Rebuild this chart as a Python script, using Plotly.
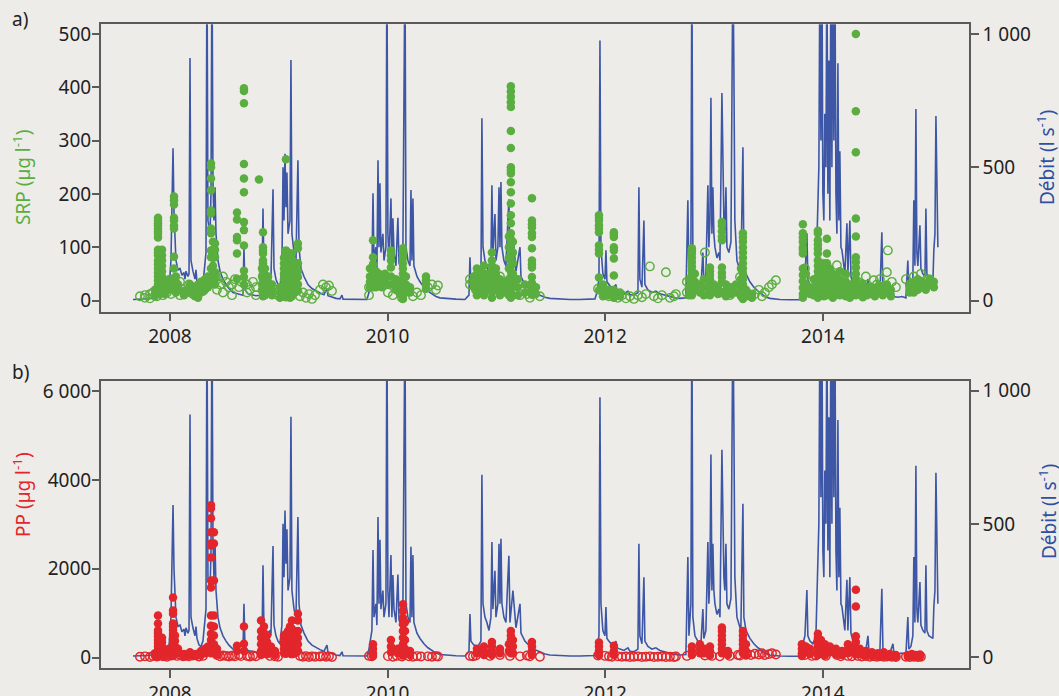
import plotly.graph_objects as go

# ---------------- DATA ----------------
# Discharge (l s-1) vs time (decimal years); peaks beyond the axis top are clipped in the figure
discharge = [
 (2007.660,4),(2007.724,5),(2007.798,6),(2007.862,10),(2007.890,25),(2007.908,15),(2007.936,70),(2007.963,20),(2007.991,40),
 (2008.009,150),(2008.018,300),(2008.028,571),(2008.037,330),(2008.046,200),(2008.055,150),(2008.074,115),(2008.092,120),
 (2008.110,95),(2008.129,105),(2008.138,80),(2008.147,110),(2008.165,90),(2008.175,100),(2008.184,910),(2008.193,150),
 (2008.211,110),(2008.230,80),(2008.239,115),(2008.248,70),(2008.267,45),(2008.285,40),(2008.303,60),(2008.322,150),
 (2008.331,180),(2008.340,1300),(2008.349,300),(2008.368,250),(2008.377,400),(2008.386,1300),(2008.395,450),(2008.404,300),
 (2008.414,425),(2008.423,250),(2008.441,150),(2008.460,110),(2008.487,80),(2008.515,60),(2008.542,45),(2008.579,30),
 (2008.616,25),(2008.643,22),(2008.671,20),(2008.680,200),(2008.689,40),(2008.717,25),(2008.754,20),(2008.790,18),
 (2008.827,20),(2008.846,60),(2008.855,345),(2008.864,100),(2008.882,70),(2008.901,90),(2008.919,100),(2008.928,80),
 (2008.947,417),(2008.956,120),(2008.974,80),(2008.993,60),(2009.011,50),(2009.029,120),(2009.039,500),(2009.048,300),
 (2009.057,550),(2009.066,350),(2009.075,480),(2009.085,250),(2009.103,300),(2009.112,902),(2009.121,250),(2009.140,180),
 (2009.158,150),(2009.176,526),(2009.186,200),(2009.204,120),(2009.232,90),(2009.268,60),(2009.305,45),(2009.342,35),
 (2009.379,28),
 (2009.415,22),(2009.443,45),(2009.452,18),(2009.489,12),(2009.526,8),(2009.562,6),(2009.581,20),(2009.590,5),(2009.654,4),
 (2009.746,3),(2009.810,4),(2009.829,30),(2009.838,50),(2009.856,100),(2009.866,402),(2009.875,150),(2009.893,200),
 (2009.902,120),(2009.912,526),(2009.921,200),(2009.930,440),(2009.939,180),(2009.957,250),(2009.967,150),(2009.985,200),
 (2009.994,1300),(2010.003,250),(2010.013,150),(2010.031,383),(2010.040,150),(2010.049,308),(2010.059,180),(2010.077,130),
 (2010.095,310),(2010.105,140),(2010.123,120),(2010.141,200),(2010.150,860),(2010.160,1300),(2010.169,200),(2010.187,150),
 (2010.206,130),(2010.215,414),(2010.224,150),(2010.233,383),(2010.242,130),(2010.270,90),(2010.298,70),(2010.334,50),
 (2010.371,35),(2010.408,25),(2010.445,15),(2010.481,10),(2010.555,7),(2010.628,5),(2010.711,4),(2010.748,20),(2010.757,162),
 (2010.766,60),(2010.794,45),(2010.831,40),(2010.858,60),(2010.867,684),(2010.877,200),(2010.895,150),(2010.913,130),
 (2010.932,100),(2010.950,150),(2010.959,432),(2010.968,180),(2010.987,324),(2010.996,150),(2011.014,200),(2011.024,425),
 (2011.033,200),(2011.042,444),(2011.051,200),(2011.069,150),(2011.088,130),(2011.106,300),(2011.115,380),(2011.125,130),
 (2011.152,250),(2011.180,110),(2011.217,200),(2011.226,90),(2011.262,60),(2011.308,40),(2011.354,28),(2011.400,20),
 (2011.446,12),(2011.492,8),(2011.584,5),(2011.676,4),(2011.768,4),(2011.860,4),(2011.906,6),(2011.924,30),(2011.943,80),
 (2011.952,975),(2011.961,200),(2011.979,100),(2011.998,80),(2012.007,188),(2012.016,70),(2012.044,55),(2012.071,45),
 (2012.099,60),(2012.108,35),(2012.136,30),(2012.172,25),(2012.209,35),(2012.227,22),(2012.264,20),(2012.301,30),
 (2012.310,425),(2012.319,80),(2012.338,50),(2012.356,300),(2012.365,60),(2012.393,40),(2012.430,30),(2012.466,35),
 (2012.503,25),(2012.549,20),(2012.595,15),(2012.641,10),(2012.687,8),(2012.742,10),(2012.760,376),(2012.770,80),
 (2012.788,200),(2012.797,1300),(2012.806,150),(2012.825,80),(2012.852,60),(2012.880,50),(2012.898,180),(2012.907,70),
 (2012.926,100),(2012.944,432),(2012.953,200),(2012.963,300),(2012.972,760),(2012.981,250),(2012.990,425),(2012.999,250),
 (2013.009,200),(2013.027,160),(2013.045,180),(2013.055,150),(2013.073,778),(2013.082,515),(2013.091,300),(2013.100,250),
 (2013.110,425),(2013.119,200),(2013.137,180),(2013.156,220),(2013.174,1300),(2013.183,876),(2013.192,300),(2013.211,150),
 (2013.229,120),(2013.247,100),(2013.266,575),(2013.275,150),(2013.294,100),(2013.330,70),(2013.367,50),(2013.404,35),
 (2013.440,25),(2013.468,15),(2013.514,8),(2013.606,4),(2013.698,3),(2013.790,3),
 (2013.817,50),(2013.836,80),(2013.854,252),(2013.863,80),(2013.882,60),(2013.909,50),(2013.937,80),(2013.955,338),
 (2013.964,500),(2013.974,1300),(2013.983,600),(2013.992,1300),(2014.001,400),(2014.010,300),(2014.019,700),(2014.029,500),
 (2014.038,1300),(2014.047,400),(2014.056,900),(2014.065,300),(2014.075,1300),(2014.084,500),(2014.093,1300),(2014.102,600),
 (2014.111,1300),(2014.121,400),(2014.130,250),(2014.139,890),(2014.148,300),(2014.157,560),(2014.167,200),(2014.176,190),
 (2014.194,120),(2014.203,100),(2014.222,290),(2014.231,100),(2014.249,300),(2014.259,90),(2014.277,60),(2014.304,45),
 (2014.341,35),(2014.369,30),(2014.396,25),(2014.415,80),(2014.424,25),(2014.452,20),(2014.488,18),(2014.525,20),
 (2014.543,256),(2014.553,30),(2014.580,20),(2014.617,15),(2014.645,50),(2014.654,15),(2014.690,12),(2014.727,15),
 (2014.764,10),(2014.782,150),(2014.791,30),(2014.810,40),(2014.828,80),(2014.837,376),(2014.847,130),(2014.856,718),
 (2014.865,180),(2014.874,130),(2014.893,282),(2014.902,120),(2014.920,100),(2014.939,90),(2014.948,345),(2014.957,100),
 (2014.975,80),(2014.994,75),(2015.012,70),(2015.021,190),(2015.031,250),(2015.040,692),(2015.049,300),(2015.058,200),
]

# SRP (µg l-1): filled circles = event samples, open circles = other samples; (time, [values])
srp_filled = [
 (2007.862,[20,12,8]),
 (2007.890,[155,150,145,140,135,130,125,118,95,90,85,75,68,60,52,45,38,30,22,15]),
 (2007.908,[30,20,12]),(2007.927,[95,85,75,65,55,45,35]),(2007.954,[25,18,12]),(2007.991,[40,30,20]),
 (2008.037,[195,188,180,155,150,140,135,82,60,42,35,28,20]),(2008.055,[45,35,25,15]),(2008.074,[30,20]),
 (2008.129,[18,10]),(2008.184,[30,22,15]),(2008.230,[25,15,8]),(2008.258,[30,20,10,5]),(2008.285,[35,25,15]),
 (2008.322,[40,30,20]),(2008.349,[45,35,25]),
 (2008.377,[257,250,229,207,169,163,135,126,94,81,60,45]),(2008.395,[110,95,80,65,50,35]),(2008.414,[107,95,81,53,41,30]),
 (2008.616,[165,152,119,113,88,41]),(2008.680,[398,393,370,256,229,203,147,132,103,56,44,30]),(2008.818,[227]),
 (2008.846,[60,45,30,20]),(2008.855,[128,100,94,88,75,70,65,55,50,40,35,25,15,8]),(2008.873,[60,48,38,28,18,10]),
 (2008.901,[45,35,20]),(2008.938,[30,20,10]),(2009.011,[25,15,5]),(2009.048,[80,70,60,50,40,30,20,10]),
 (2009.066,[265,94,88,80,72,65,58,50,42,35,28,20,12,6]),(2009.085,[90,80,70,60,50,40,30,20,10]),
 (2009.103,[85,75,65,55,45,35,25,15,5]),(2009.121,[88,78,68,58,48,38,28,18,8]),(2009.149,[60,45,30,15]),
 (2009.176,[107,98,70,55,44,30,18]),
 (2009.838,[60,45,35,25]),(2009.866,[113,81,68,55,47,40,35,30,25]),(2009.893,[55,45,35,25]),(2009.921,[50,40,30]),
 (2009.948,[45,35,25]),(2009.976,[50,40,30]),(2010.031,[94,85,75,62,45,30]),(2010.077,[40,30,20]),(2010.114,[35,25,12]),
 (2010.141,[98,90,80,70,60,50,40,30,20,10,3]),(2010.169,[45,30,15]),(2010.206,[25,15]),(2010.353,[45,38,30,22]),
 (2010.794,[45,35,25]),(2010.821,[60,50,40,30,20,10]),(2010.849,[55,45,35,25,15]),(2010.886,[65,50,40,30,20,10]),
 (2010.923,[50,40,30,20]),(2010.959,[90,75,65,55,45,35,25,15,5]),(2010.996,[60,50,40,30,20]),(2011.033,[40,30,20,10]),
 (2011.079,[35,25,15]),(2011.115,[120,100,80,60,40,25,10]),
 (2011.133,[402,392,382,372,363,318,286,250,244,238,222,203,182,160,145,126,115,105,95,85,75,65,55,45,35,25,15,5]),
 (2011.152,[110,90,70,50,30,10]),(2011.197,[40,25,10]),(2011.262,[30,15]),
 (2011.327,[192,150,143,137,126,119,98,75,68,62,44,33,22,11]),(2011.364,[25,12]),
 (2011.943,[160,155,150,141,135,128,103,95,88,43,19]),(2011.980,[30,18,8]),(2012.026,[20,10]),
 (2012.080,[128,124,119,100,94,79,47,20,12,5]),(2012.136,[15,8]),
 (2012.770,[40,25,10]),(2012.797,[98,94,88,80,72,64,56,48,40,30,20,10]),(2012.825,[50,35,20]),(2012.871,[30,15]),
 (2012.907,[40,25,10]),(2012.963,[62,55,48,40,32,24,16,10]),(2012.999,[30,18]),(2013.036,[25,12]),
 (2013.073,[147,140,130,120,113,62,52,44,35,15]),(2013.110,[30,18,8]),(2013.156,[25,12]),(2013.202,[30,15]),
 (2013.248,[60,40,20,8]),(2013.266,[126,118,110,100,90,80,70,60,50,40,30,20,10,3]),(2013.294,[20,8]),(2013.349,[12,5]),
 (2013.817,[143,126,118,110,100,95,88,60,48,36,24,12,5]),(2013.845,[50,30,15]),(2013.882,[25,12]),(2013.918,[40,25,10]),
 (2013.955,[131,126,113,105,97,88,75,65,55,45,35,25,15,5]),(2013.983,[60,45,30,15]),(2014.010,[70,50,35,20,8]),
 (2014.038,[116,88,70,55,40,25,10]),(2014.065,[60,45,30,15]),(2014.093,[50,35,20,5]),(2014.120,[45,30,15]),
 (2014.157,[55,40,25,10]),(2014.184,[35,20]),(2014.212,[50,35,20,8]),(2014.249,[30,15,5]),(2014.276,[25,12]),
 (2014.304,[500,355,278,154,120,81,72,62,50,40,30,20,10]),(2014.331,[25,12]),(2014.368,[30,18,6]),(2014.405,[22,10]),
 (2014.442,[25,12]),(2014.479,[20,8]),(2014.515,[28,15]),(2014.552,[25,10]),(2014.589,[30,15]),(2014.626,[20,8]),
 (2014.800,[25,15]),(2014.837,[35,25,15]),(2014.874,[40,30,20]),(2014.911,[35,25]),(2014.947,[30,20]),
 (2014.984,[40,30]),(2015.021,[35,25]),
]
srp_open = [
 (2007.724,[8]),(2007.770,[10,5]),(2007.816,[12,4]),(2007.844,[15]),(2007.880,[8,20]),(2007.936,[25,10]),(2007.972,[15]),
 (2008.009,[30,12]),(2008.064,[25]),(2008.092,[35,10]),(2008.119,[20]),(2008.147,[15]),(2008.175,[30]),(2008.211,[12]),
 (2008.267,[25]),(2008.303,[18]),(2008.432,[40,20]),(2008.460,[30]),(2008.487,[45,15]),(2008.515,[35]),(2008.542,[25]),
 (2008.570,[30,10]),(2008.597,[40]),(2008.634,[25]),(2008.652,[35]),(2008.708,[30,15]),(2008.735,[20]),(2008.763,[35]),
 (2008.790,[25,10]),(2008.919,[15]),(2008.965,[20]),(2008.993,[10]),(2009.195,[8]),(2009.222,[15]),(2009.250,[5]),
 (2009.277,[12]),(2009.305,[3]),(2009.333,[10]),(2009.379,[20]),(2009.406,[30]),(2009.434,[25]),(2009.461,[28]),
 (2009.489,[18]),
 (2009.829,[25,10]),(2009.856,[35]),(2010.003,[15]),(2010.049,[10]),(2010.086,[20]),(2010.132,[5]),(2010.196,[18]),
 (2010.233,[8]),(2010.270,[15]),(2010.307,[10]),(2010.371,[25]),(2010.408,[30]),(2010.445,[20]),(2010.463,[28]),
 (2010.757,[40,30]),(2010.785,[35]),(2010.812,[20]),(2010.941,[15]),(2011.033,[45]),(2011.125,[20]),(2011.217,[10]),
 (2011.281,[12]),(2011.308,[20,5]),(2011.400,[8]),
 (2011.934,[22]),(2011.998,[15]),(2012.035,[8]),(2012.062,[12]),(2012.117,[5]),(2012.154,[10]),(2012.191,[4]),
 (2012.227,[8]),(2012.264,[3]),(2012.301,[10]),(2012.338,[6]),(2012.374,[12]),(2012.411,[64]),(2012.448,[8]),
 (2012.485,[4]),(2012.522,[10]),(2012.558,[53]),(2012.595,[5]),(2012.632,[8]),(2012.650,[12]),(2012.751,[35,15]),
 (2012.917,[90]),(2012.981,[20]),(2013.054,[15]),(2013.146,[10]),(2013.220,[25]),(2013.239,[44]),(2013.303,[15]),
 (2013.340,[8]),(2013.376,[12]),(2013.413,[20]),(2013.441,[8]),(2013.468,[15]),(2013.505,[25]),(2013.533,[30]),
 (2013.569,[38]),
 (2013.836,[60,45]),(2013.900,[35]),(2013.937,[20]),(2014.028,[40]),(2014.130,[66]),(2014.166,[30]),(2014.231,[25]),
 (2014.267,[40]),(2014.322,[35]),(2014.359,[30]),(2014.396,[45]),(2014.433,[25]),(2014.469,[38]),(2014.497,[30]),
 (2014.525,[40]),(2014.561,[20]),(2014.589,[53]),(2014.598,[94]),(2014.635,[35]),(2014.672,[25]),(2014.764,[40]),
 (2014.800,[30]),(2014.837,[45]),(2014.874,[35]),(2014.902,[50]),(2014.938,[30]),(2014.975,[40]),
]

# PP (µg l-1)
pp_filled = [
 (2007.862,[100,50]),(2007.890,[950,770,610,550,480,400,330,250,180,120,60,20]),(2007.908,[300,200,100,40]),
 (2007.927,[450,350,250,150,60]),(2007.954,[150,80,30]),(2007.991,[200,120,50]),
 (2008.028,[1355,1060,990,770,700,620,540,420,300,200,100,40]),(2008.046,[500,380,250,120]),(2008.074,[200,100]),
 (2008.129,[80,30]),(2008.184,[120,50]),(2008.239,[80,40]),(2008.285,[150,60]),(2008.322,[200,100]),(2008.349,[250,120]),
 (2008.377,[3430,3360,3135,2820,2570,2525,2255,1735,1580,950,720,540,400,250,100]),
 (2008.404,[2820,2570,1735,950,700,500,300,150]),(2008.432,[200,80]),(2008.616,[270,150]),(2008.680,[700,315,150]),
 (2008.837,[835,600,450,300,150,60]),(2008.864,[700,550,400,250,100]),(2008.892,[500,350,200,80]),(2008.928,[250,120]),
 (2008.965,[150,60]),(2009.048,[500,400,300,200,100]),(2009.066,[530,420,310,200,90]),(2009.085,[600,480,360,240,120]),
 (2009.103,[700,550,400,250,100]),(2009.121,[835,650,500,350,200,80]),(2009.149,[400,250,100]),
 (2009.176,[990,835,600,450,300,150]),
 (2009.866,[300,200,100,40]),(2010.031,[400,250,120]),(2010.095,[200,100]),
 (2010.141,[1200,1050,900,750,600,450,300,150,50]),(2010.160,[800,600,400,200]),(2010.206,[150,60]),
 (2010.821,[200,100]),(2010.886,[250,150,60]),(2010.959,[350,250,150,60]),(2011.033,[200,100]),(2011.115,[300,150]),
 (2011.133,[600,500,400,300,200,100]),(2011.152,[400,250,100]),(2011.327,[350,250,150,60]),
 (2011.943,[340,250,150,60]),(2012.080,[270,150,60]),
 (2012.797,[250,150,60]),(2012.871,[300,200,100]),(2012.907,[200,100]),(2012.963,[250,150,50]),
 (2013.073,[680,600,500,400,300,200,100]),(2013.128,[150,60]),(2013.266,[600,500,400,300,200,100]),(2013.294,[300,150,50]),
 (2013.808,[300,200,100,40]),(2013.845,[250,120]),(2013.882,[200,80]),(2013.955,[540,450,350,250,150,60]),
 (2013.983,[400,250,100]),(2014.019,[300,150,50]),(2014.065,[250,120]),(2014.121,[200,80]),(2014.176,[150,60]),
 (2014.231,[300,200,100]),(2014.277,[250,120]),(2014.304,[1530,1150,480,350,200,80]),(2014.341,[200,80]),
 (2014.396,[150,50]),(2014.452,[120,40]),(2014.507,[100,30]),(2014.561,[120,40]),(2014.617,[80,20]),(2014.672,[60,20]),
 (2014.782,[60,20]),(2014.819,[80,30]),(2014.856,[60,20]),(2014.893,[70,25]),
]
pp_open = [
 (2007.724,[20]),(2007.770,[30]),(2007.816,[15]),(2007.844,[40]),(2007.880,[25]),(2007.936,[30]),(2007.972,[20]),
 (2008.009,[50]),(2008.064,[40]),(2008.092,[60]),(2008.119,[30]),(2008.147,[45]),(2008.175,[30]),(2008.211,[50]),
 (2008.267,[25]),(2008.303,[40]),(2008.432,[60]),(2008.460,[30]),(2008.487,[50]),(2008.515,[40]),(2008.542,[25]),
 (2008.570,[45]),(2008.597,[30]),(2008.634,[60]),(2008.652,[35]),(2008.708,[40]),(2008.735,[25]),(2008.763,[50]),
 (2008.790,[30]),(2008.919,[40]),(2008.965,[30]),(2008.993,[20]),(2009.195,[40]),(2009.222,[20]),(2009.250,[35]),
 (2009.277,[15]),(2009.305,[30]),(2009.333,[20]),(2009.379,[25]),(2009.406,[40]),(2009.434,[20]),(2009.461,[30]),
 (2009.489,[15]),
 (2009.829,[40]),(2009.856,[30]),(2010.003,[35]),(2010.049,[20]),(2010.086,[40]),(2010.132,[25]),(2010.196,[30]),
 (2010.233,[20]),(2010.270,[35]),(2010.307,[25]),(2010.371,[30]),(2010.408,[20]),(2010.445,[35]),(2010.463,[25]),
 (2010.757,[40]),(2010.785,[30]),(2010.812,[50]),(2010.941,[40]),(2011.033,[60]),(2011.125,[40]),(2011.217,[30]),
 (2011.281,[50]),(2011.308,[30]),(2011.400,[20]),
 (2011.934,[50]),(2011.998,[40]),(2012.035,[30]),(2012.062,[20]),(2012.117,[30]),(2012.154,[20]),(2012.191,[25]),
 (2012.227,[15]),(2012.264,[20]),(2012.301,[30]),(2012.338,[15]),(2012.374,[20]),(2012.411,[30]),(2012.448,[15]),
 (2012.485,[20]),(2012.522,[25]),(2012.558,[15]),(2012.595,[20]),(2012.632,[15]),(2012.650,[25]),(2012.751,[40]),
 (2012.917,[50]),(2012.981,[40]),(2013.054,[30]),(2013.146,[40]),(2013.220,[60]),(2013.239,[50]),(2013.303,[80]),
 (2013.340,[60]),(2013.376,[90]),(2013.413,[70]),(2013.441,[100]),(2013.468,[60]),(2013.505,[80]),(2013.533,[100]),
 (2013.569,[70]),
 (2013.836,[60]),(2013.900,[40]),(2013.937,[50]),(2014.028,[40]),(2014.130,[60]),(2014.166,[30]),(2014.231,[40]),
 (2014.267,[30]),(2014.322,[40]),(2014.359,[25]),(2014.396,[35]),(2014.433,[20]),(2014.469,[30]),(2014.497,[20]),
 (2014.525,[30]),(2014.561,[20]),(2014.589,[25]),(2014.635,[20]),(2014.672,[15]),(2014.764,[20]),(2014.800,[15]),
 (2014.837,[20]),(2014.874,[15]),(2014.902,[20]),
]

x_ticks = [2008, 2010, 2012, 2014]
srp_ticks = [0, 100, 200, 300, 400, 500]
pp_ticks = [0, 2000, 4000, 6000]
pp_tick_text = ["0", "2000", "4000", "6 000"]
q_ticks = [0, 500, 1000]
q_tick_text = ["0", "500", "1 000"]

# ---------------- STYLE ----------------
BG = "#eeece8"
BLUE = "rgba(36,66,156,0.88)"
BLUE_T = "#2f4fa0"
GREEN = "#5aae3f"
RED = "#e2262b"
AX = "#5a5a5a"
FONT = "Noto Sans"

def flatten(groups):
    xs, ys = [], []
    for t, vals in groups:
        for v in vals:
            xs.append(t)
            ys.append(v)
    return xs, ys

q_t = [p[0] for p in discharge]
q_v = [p[1] for p in discharge]

fig = go.Figure()
# panel a
fig.add_trace(go.Scatter(x=q_t, y=q_v, mode="lines", line=dict(color=BLUE, width=1.6),
                         xaxis="x", yaxis="y", hoverinfo="skip"))
sx, sy = flatten(srp_open)
fig.add_trace(go.Scatter(x=sx, y=sy, mode="markers", xaxis="x", yaxis="y2",
                         marker=dict(symbol="circle-open", size=8.5, color=GREEN, line=dict(width=1.4, color=GREEN))))
sx, sy = flatten(srp_filled)
fig.add_trace(go.Scatter(x=sx, y=sy, mode="markers", xaxis="x", yaxis="y2",
                         marker=dict(symbol="circle", size=8.5, color=GREEN)))
# panel b
fig.add_trace(go.Scatter(x=q_t, y=q_v, mode="lines", line=dict(color=BLUE, width=1.6),
                         xaxis="x2", yaxis="y3", hoverinfo="skip"))
px_, py_ = flatten(pp_open)
fig.add_trace(go.Scatter(x=px_, y=py_, mode="markers", xaxis="x2", yaxis="y4",
                         marker=dict(symbol="circle-open", size=8.5, color=RED, line=dict(width=1.4, color=RED))))
px_, py_ = flatten(pp_filled)
fig.add_trace(go.Scatter(x=px_, y=py_, mode="markers", xaxis="x2", yaxis="y4",
                         marker=dict(symbol="circle", size=8.5, color=RED)))

W, H = 1059, 696
xdom = [101 / W, 969 / W]
dom_a = [1 - 311.7 / H, 1 - 24.3 / H]
dom_b = [1 - 668.3 / H, 1 - 381 / H]
xr = [2007.366, 2015.344]
tickfont = dict(family=FONT, size=19, color="#222222")

def xax(anchor):
    return dict(domain=xdom, range=xr, anchor=anchor, tickvals=x_ticks, ticktext=[str(v) for v in x_ticks],
                ticks="outside", ticklen=8, tickwidth=1.5, tickcolor=AX, showline=True, mirror=True,
                linecolor=AX, linewidth=1.5, showgrid=False, zeroline=False, tickfont=tickfont,
                automargin=False, ticklabelstandoff=-1)

def qax(dom, anchor):
    return dict(domain=dom, range=[-42, 1036], anchor=anchor, side="right", tickvals=q_ticks, ticktext=q_tick_text,
                ticks="outside", ticklen=8, tickwidth=1.5, tickcolor=AX, showline=True, mirror=True,
                linecolor=AX, linewidth=1.5, showgrid=False, zeroline=False, tickfont=tickfont,
                automargin=False)

def lax(over, anchor, rng, tv, tt):
    return dict(overlaying=over, anchor=anchor, side="left", range=rng, tickvals=tv, ticktext=tt,
                ticks="outside", ticklen=8, tickwidth=1.5, tickcolor=AX, showline=False,
                showgrid=False, zeroline=False, tickfont=tickfont, automargin=False,
                ticklabelstandoff=-3)

fig.update_layout(
    width=W, height=H, margin=dict(l=0, r=0, t=0, b=0, autoexpand=False),
    paper_bgcolor=BG, plot_bgcolor=BG, showlegend=False,
    font=dict(family=FONT, size=19, color="#222222"),
    xaxis=xax("y"),
    xaxis2=xax("y3"),
    yaxis=qax(dom_a, "x"),
    yaxis2=lax("y", "x", [-21, 518], srp_ticks, [str(v) for v in srp_ticks]),
    yaxis3=qax(dom_b, "x2"),
    yaxis4=lax("y3", "x2", [-239, 6225], pp_ticks, pp_tick_text),
)

def ann(text, x, y, color, angle=0, size=19, xanchor="center"):
    fig.add_annotation(text=text, x=x / W, y=1 - y / H, xref="paper", yref="paper", showarrow=False,
                       textangle=angle, xanchor=xanchor, yanchor="middle",
                       font=dict(family=FONT, size=size, color=color))

ann("a)", 10, 19, "#222222", xanchor="left")
ann("b)", 10, 372, "#222222", xanchor="left")
ann("SRP (µg l<sup>-1</sup>)", 22, 178, GREEN, angle=-90)
ann("PP (µg l<sup>-1</sup>)", 22, 495, RED, angle=-90)
ann("Débit (l s<sup>-1</sup>)", 1046, 158, BLUE_T, angle=-90)
ann("Débit (l s<sup>-1</sup>)", 1048, 512, BLUE_T, angle=-90)

fig.write_html("out.html", config={"displayModeBar": False},
               post_script="document.body.style.margin='0';document.body.style.overflow='hidden';")
